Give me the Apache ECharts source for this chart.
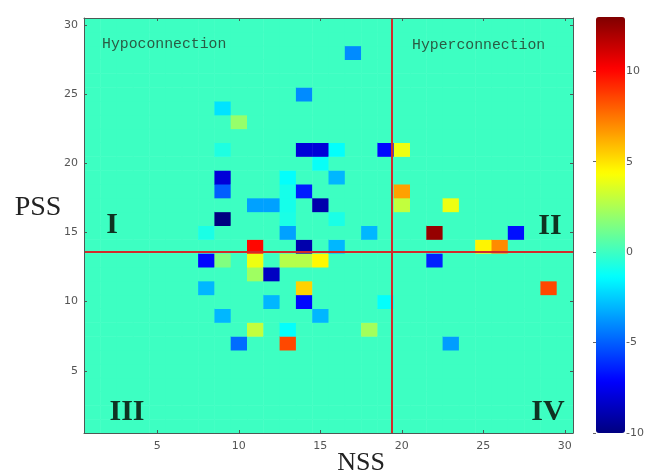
<!DOCTYPE html>
<html><head><meta charset="utf-8">
<script src="https://cdn.jsdelivr.net/npm/echarts@6/dist/echarts.min.js"></script>
<style>html,body{margin:0;padding:0;background:#fff}#c{width:647px;height:475px}</style>
</head><body><div id="c"></div><script>
// non-zero cells (NSS index, PSS index, value); all other cells are 0
const nss  = [17,14, 9,10, 9,14,15,16,19,20,15, 9,13,16, 9,13,14,20,11,12,13,15,20,23, 9,13,16, 8,13,18,22,27,11,14,16,25,26, 8, 9,11,13,14,15,22,11,12, 8,14,29,12,14,19, 9,15,11,13,18,10,13,23];
const pss  = [28,25,24,23,21,21,21,21,21,21,20,19,19,19,18,18,18,18,17,17,17,17,17,17,16,16,16,15,15,15,15,15,14,14,14,14,14,13,13,13,13,13,13,13,12,12,11,11,11,10,10,10, 9, 9, 8, 8, 8, 7, 7, 7];
const vals = [-4,-4,-2,2,-0.7,-8,-8,-1.3,-7,4,-1.2,-8,-1.3,-3,-5,-0.9,-6.5,6.5,-3.5,-3.5,-0.9,-9,3,4,-10,-0.8,-0.8,-0.8,-3.5,-3,12.5,-6.8,10,-9,-3,4.6,7,-7,1.5,4,2.7,2.7,4.5,-6.4,2.2,-8.5,-3,5.4,8.5,-3,-7,-1.3,-3,-3,3,-1.3,2.3,-4.7,8.5,-3.6];
const xTicks = [5,10,15,20,25,30];
const yTicks = [5,10,15,20,25,30];
const cbTicks = [-10,-5,0,5,10];
const splitNSS = 19.4, splitPSS = 13.6;
const N = 30;

const lookup = {};
nss.forEach((x,k)=>{ lookup[x+','+pss[k]] = vals[k]; });
const cells = [];
for (let i=1;i<=N;i++) for (let j=1;j<=N;j++) cells.push([i,j,lookup[i+','+j] ?? 0]);

const jet = ['#000080','#0000ff','#0080ff','#00ffff','#80ff80','#ffff00','#ff8000','#ff0000','#800000'];
const axisCol = '#4d5a55';
const lab = {color:'#555', fontSize:11, fontFamily:'DejaVu Sans'};
const mk = (extra)=>Object.assign({type:'value', min:0.5, max:30.5, gridIndex:0, z:10,
  splitLine:{show:false}, axisLine:{show:true, onZero:false, lineStyle:{color:axisCol, width:1}}}, extra);

const chart = echarts.init(document.getElementById('c'), null, {renderer:'canvas'});
chart.setOption({
  animation:false,
  backgroundColor:'#fff',
  grid:[{left:84, top:18, width:489, height:415},
        {left:596, top:17, width:29, height:416}],
  xAxis:[
    mk({position:'bottom', axisTick:{inside:true, length:3, customValues:xTicks, lineStyle:{color:axisCol}},
        axisLabel:Object.assign({customValues:xTicks, margin:8}, lab)}),
    mk({position:'top', axisTick:{inside:true, length:3, customValues:xTicks, lineStyle:{color:axisCol}},
        axisLabel:{show:false}}),
    {type:'value', gridIndex:1, min:0, max:1, show:false}
  ],
  yAxis:[
    mk({position:'left', axisTick:{inside:true, length:3, customValues:yTicks, lineStyle:{color:axisCol}},
        axisLabel:Object.assign({customValues:yTicks, margin:6}, lab)}),
    mk({position:'right', axisTick:{inside:true, length:3, customValues:yTicks, lineStyle:{color:axisCol}},
        axisLabel:{show:false}}),
    {type:'value', gridIndex:1, min:-10, max:13, position:'right', z:10,
     splitLine:{show:false},
     axisLine:{show:false},
     axisTick:{show:true, inside:true, length:3, customValues:cbTicks, lineStyle:{color:'#666'}},
     axisLabel:Object.assign({customValues:cbTicks, margin:4}, lab)}
  ],
  visualMap:{type:'continuous', min:-10, max:13, dimension:2, seriesIndex:0,
    inRange:{color:jet}, calculable:false, orient:'vertical', left:596, top:17,
    itemWidth:29, itemHeight:416, padding:0, text:null, hoverLink:false},
  series:[
    {type:'custom', xAxisIndex:0, yAxisIndex:0, z:2, data:cells, silent:true,
     renderItem:(params, api)=>{
       const x = api.value(0), y = api.value(1);
       const p0 = api.coord([x-0.5, y+0.5]);
       const p1 = api.coord([x+0.5, y-0.5]);
       return {type:'rect', shape:{x:p0[0], y:p0[1], width:p1[0]-p0[0]+0.5, height:p1[1]-p0[1]+0.5},
               style:{fill:api.visual('color')}};
     }},
    {type:'line', xAxisIndex:0, yAxisIndex:0, data:[], z:5,
     markLine:{silent:true, symbol:'none', label:{show:false},
       lineStyle:{color:'#d22b2b', width:2, type:'solid'},
       data:[{xAxis:splitNSS},{yAxis:splitPSS}]}}
  ],
  graphic:[
    {type:'text', x:361, y:463, style:{text:'NSS', font:'26px "Liberation Serif"', fill:'#222', textAlign:'center', textVerticalAlign:'middle'}},
    {type:'text', x:38, y:208, style:{text:'PSS', font:'28px "Liberation Serif"', fill:'#222', textAlign:'center', textVerticalAlign:'middle'}},
    {type:'text', x:102, y:44, z:20, style:{text:'Hypoconnection', font:'14.8px "Liberation Mono"', fill:'#2a5c44', textAlign:'left', textVerticalAlign:'middle'}},
    {type:'text', x:412, y:45, z:20, style:{text:'Hyperconnection', font:'14.8px "Liberation Mono"', fill:'#2a5c44', textAlign:'left', textVerticalAlign:'middle'}},
    {type:'text', x:112, y:225, z:20, style:{text:'I', font:'bold 30px "Liberation Serif"', fill:'#0f3322', textAlign:'center', textVerticalAlign:'middle'}},
    {type:'text', x:550, y:226, z:20, style:{text:'II', font:'bold 30px "Liberation Serif"', fill:'#0f3322', textAlign:'center', textVerticalAlign:'middle'}},
    {type:'text', x:127, y:412, z:20, style:{text:'III', font:'bold 30px "Liberation Serif"', fill:'#0f3322', textAlign:'center', textVerticalAlign:'middle'}},
    {type:'text', x:548, y:412, z:20, style:{text:'IV', font:'bold 30px "Liberation Serif"', fill:'#0f3322', textAlign:'center', textVerticalAlign:'middle'}}
  ]
});
</script></body></html>
